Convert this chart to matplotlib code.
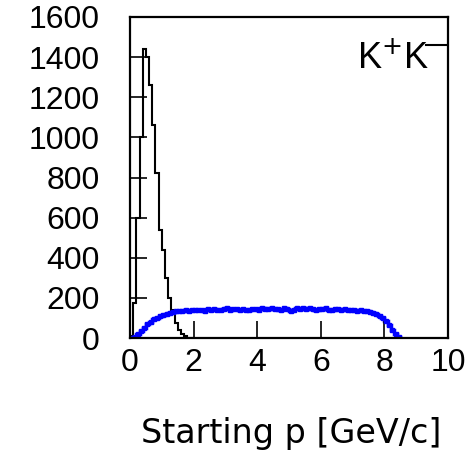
import numpy as np
import matplotlib

matplotlib.use("Agg")
import matplotlib.pyplot as plt

# black histogram: 0.1 GeV/c bins starting at 0
black_counts = [10, 175, 600, 1000, 1440, 1400, 1260, 1060, 820, 540,
                440, 300, 200, 140, 75, 40, 20, 8, 2, 0]

# blue histogram: 0.1 GeV/c bins starting at 0
blue_counts = [0, 5, 18, 35, 52, 68, 82, 93, 102, 110, 117, 122, 127, 131, 134,
               137, 133, 139, 136, 141, 138, 142, 140, 137, 143, 140, 144, 141, 139, 146,
               150, 141, 143, 147, 139, 145, 142, 138, 144, 146, 141, 148, 143, 145, 150,
               144, 147, 142, 149, 146, 133, 140, 151, 145, 148, 143, 152, 146, 141, 147,
               144, 148, 142, 139, 145, 143, 140, 146, 141, 138, 142, 137, 140, 135, 133,
               130, 126, 120, 112, 100, 85, 65, 42, 20, 5]

bin_width = 0.1
x_ticks = [0, 2, 4, 6, 8, 10]
y_ticks = [0, 200, 400, 600, 800, 1000, 1200, 1400, 1600]

plt.rcParams["font.family"] = ["Liberation Sans", "DejaVu Sans"]

W, H = 471, 453
fig = plt.figure(figsize=(W / 100, H / 100), dpi=100)
ax = fig.add_axes([130 / W, (H - 338) / H, (448 - 130) / W, (338 - 17) / H])

black_edges = np.arange(len(black_counts) + 1) * bin_width
ax.stairs(black_counts, black_edges, color="black", lw=1.5)

blue_edges = np.arange(len(blue_counts) + 1) * bin_width
blue_centers = blue_edges[:-1] + bin_width / 2
ax.stairs(blue_counts, blue_edges, color="#0000ff", lw=2.5)
ax.plot(blue_centers, blue_counts, "s", color="#0000ff", ms=3)

ax.set_xlim(0, 10)
ax.set_ylim(0, 1600)
ax.set_xticks(x_ticks)
ax.set_yticks(y_ticks)
ax.tick_params(direction="in", length=12, width=1.2, labelsize=23)
ax.tick_params(axis="x", pad=7)
ax.tick_params(axis="y", pad=22)
for s in ax.spines.values():
    s.set_linewidth(1.6)

# "K+K-" label; the superscript minus runs into the right frame
ax.text(0.94, 0.87, "K$^{+}$K", transform=ax.transAxes,
        ha="right", va="center", fontsize=26)
ax.plot([0.93, 1.0], [0.913, 0.913], transform=ax.transAxes,
        color="black", lw=1.5)

fig.text(291 / W, 1 - 433 / H, "Starting p [GeV/c]", ha="center", va="center",
         fontsize=24, family="DejaVu Sans")

fig.savefig("out.png", dpi=100)
